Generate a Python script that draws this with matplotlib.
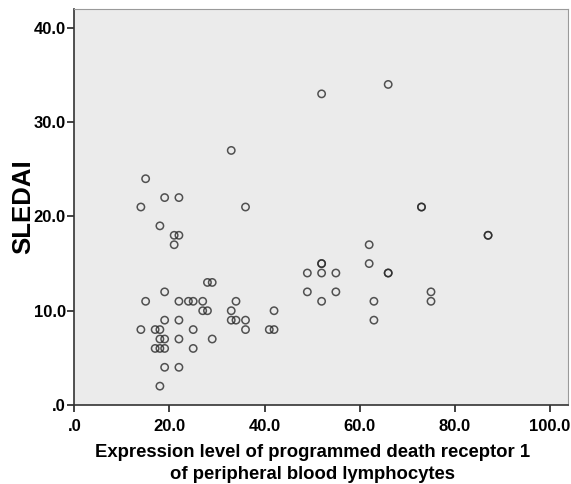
import matplotlib
matplotlib.use("Agg")
import matplotlib.pyplot as plt
from matplotlib.ticker import FuncFormatter

pd1_expr = [14, 15, 19, 22, 18, 21, 22, 21, 33, 36, 52, 66, 73, 73, 87, 87,
            62, 62, 66, 66, 52, 52, 49, 52, 55, 49, 55, 52, 63, 63, 75, 75,
            19, 15, 22, 24, 25, 27, 27, 28, 28, 29, 34, 33, 42, 33, 34, 36,
            36, 41, 42, 29,
            19, 22, 14, 17, 18, 25, 18, 19, 22, 17, 18, 19, 25, 19, 22, 18]
sledai = [21, 24, 22, 22, 19, 18, 18, 17, 27, 21, 33, 34, 21, 21, 18, 18,
          17, 15, 14, 14, 15, 15, 14, 14, 14, 12, 12, 11, 11, 9, 12, 11,
          12, 11, 11, 11, 11, 11, 10, 10, 13, 13, 11, 10, 10, 9, 9, 9,
          8, 8, 8, 7,
          9, 9, 8, 8, 8, 8, 7, 7, 7, 6, 6, 6, 6, 4, 4, 2]

x_ticks = [0, 20, 40, 60, 80, 100]
y_ticks = [0, 10, 20, 30, 40]

plt.rcParams['font.family'] = ['Liberation Sans', 'DejaVu Sans']

fig = plt.figure(figsize=(5.71, 4.84), dpi=100)
ax = fig.add_axes([0.1301, 0.1632, 0.8646, 0.8182])
ax.set_facecolor('#ebebeb')

ax.scatter(pd1_expr, sledai, s=28, facecolors='none', edgecolors='#2a2a2a',
           linewidths=1.1, alpha=0.8, zorder=3)

ax.set_xlim(0, 103.8)
ax.set_ylim(0, 42.0)
ax.set_xticks(x_ticks)
ax.set_yticks(y_ticks)

def fmt(v, pos):
    s = f"{v:.1f}"
    if s.startswith("0"):
        s = s[1:]
    return s

ax.xaxis.set_major_formatter(FuncFormatter(fmt))
ax.yaxis.set_major_formatter(FuncFormatter(fmt))
ax.tick_params(axis='both', direction='out', length=5, width=1.2,
               color='#222222', labelsize=12)
ax.tick_params(axis='x', pad=5)
ax.tick_params(axis='y', pad=1)
for lab in ax.get_xticklabels() + ax.get_yticklabels():
    lab.set_fontweight('bold')

ax.spines['left'].set_color('#333333')
ax.spines['bottom'].set_color('#333333')
ax.spines['left'].set_linewidth(1.2)
ax.spines['bottom'].set_linewidth(1.2)
ax.spines['top'].set_color('#9a9a9a')
ax.spines['right'].set_color('#9a9a9a')
ax.spines['top'].set_linewidth(0.8)
ax.spines['right'].set_linewidth(0.8)

ax.set_xlabel("Expression level of programmed death receptor 1\nof peripheral blood lymphocytes",
              fontsize=13.3, fontweight='bold', linespacing=1.38, va='top')
ax.xaxis.set_label_coords(0.4835, -0.0985)
ax.set_ylabel("SLEDAI", fontsize=18.5, fontweight='bold', va='center')
ax.yaxis.set_label_coords(-0.104, 0.5)

fig.savefig("out.png", dpi=100)
